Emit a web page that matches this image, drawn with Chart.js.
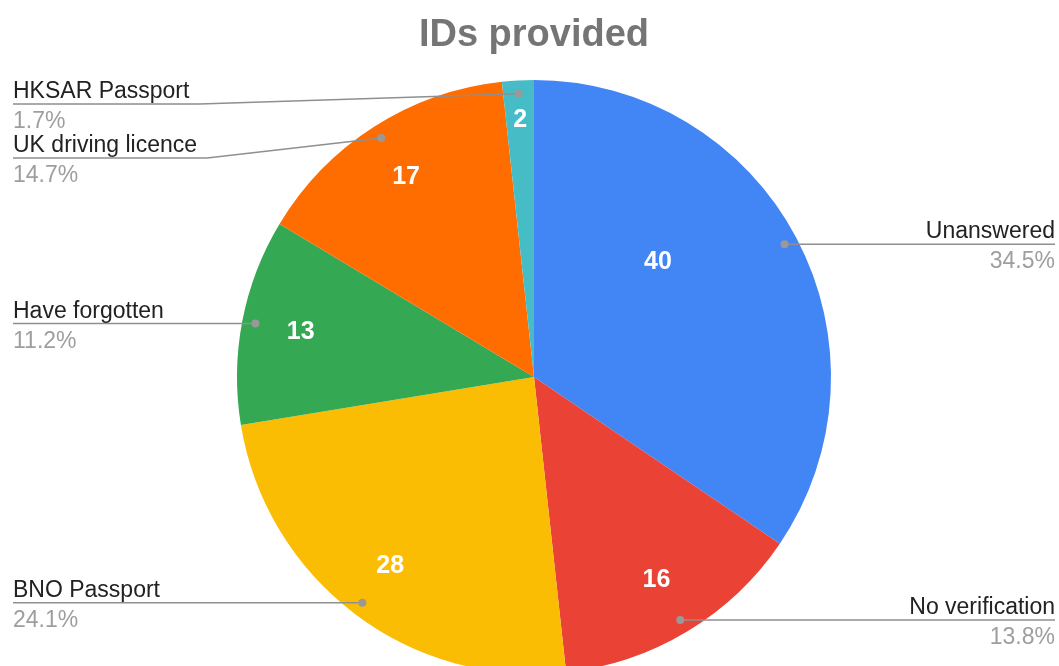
<!DOCTYPE html>
<html>
<head>
<meta charset="utf-8">
<script src="https://cdn.jsdelivr.net/npm/chart.js"></script>
<style>
  html, body { margin: 0; padding: 0; background: #fff; overflow: hidden; }
  #wrap { width: 1059px; height: 666px; overflow: hidden; }
  #box { position: relative; width: 1059px; height: 720px; }
</style>
</head>
<body>
<div id="wrap"><div id="box"><canvas id="chart"></canvas></div></div>
<script>
const categories = ['Unanswered', 'No verification', 'BNO Passport', 'Have forgotten', 'UK driving licence', 'HKSAR Passport'];
const counts = [40, 16, 28, 13, 17, 2];
const sliceColors = ['#4285f4', '#ea4335', '#fbbc04', '#34a853', '#ff6d01', '#46bdc6'];

const FONT = '"Liberation Sans", Arial, sans-serif';

// leader lines + labels outside, counts inside the slices
const pieLabels = {
  id: 'pieLabels',
  afterDatasetsDraw(chart) {
    const ctx = chart.ctx;
    const arcs = chart.getDatasetMeta(0).data;
    const total = counts.reduce((a, b) => a + b, 0);
    const W = chart.width;
    const left = [], right = [];

    arcs.forEach((arc, i) => {
      const p = arc.getProps(['x', 'y', 'startAngle', 'endAngle', 'outerRadius'], true);
      const mid = (p.startAngle + p.endAngle) / 2;
      const r = p.outerRadius;
      const item = {
        i, mid,
        dx: p.x + Math.cos(mid) * r * 0.955,
        dy: p.y + Math.sin(mid) * r * 0.955
      };
      (Math.cos(mid) >= 0 ? right : left).push(item);
    });

    // spread labels so they don't overlap
    [left, right].forEach(side => {
      side.sort((a, b) => a.dy - b.dy);
      let prev = -Infinity;
      side.forEach(it => {
        it.ly = Math.max(it.dy, 104, prev + 54);
        prev = it.ly;
      });
    });

    ctx.save();
    ctx.font = '23px ' + FONT;
    const drawSide = (side, isLeft) => {
      side.forEach(it => {
        const name = categories[it.i];
        const pct = (counts[it.i] / total * 100).toFixed(1) + '%';
        const tw = ctx.measureText(name).width;
        ctx.strokeStyle = '#8f8f8f';
        ctx.lineWidth = 1.5;
        ctx.beginPath();
        if (isLeft) {
          ctx.moveTo(13, it.ly);
          ctx.lineTo(Math.min(13 + tw + 10, it.dx), it.ly);
          ctx.lineTo(it.dx, it.dy);
        } else {
          ctx.moveTo(it.dx, it.dy);
          ctx.lineTo(Math.max(W - 4 - tw - 10, it.dx), it.ly);
          ctx.lineTo(W - 4, it.ly);
        }
        ctx.stroke();
        ctx.fillStyle = '#999999';
        ctx.beginPath();
        ctx.arc(it.dx, it.dy, 4, 0, Math.PI * 2);
        ctx.fill();

        ctx.textAlign = isLeft ? 'left' : 'right';
        ctx.textBaseline = 'alphabetic';
        const tx = isLeft ? 13 : W - 4;
        ctx.fillStyle = '#222222';
        ctx.fillText(name, tx, it.ly - 6);
        ctx.fillStyle = '#9e9e9e';
        ctx.fillText(pct, tx, it.ly + 24);
      });
    };
    drawSide(left, true);
    drawSide(right, false);

    // counts inside slices
    ctx.font = 'bold 25px ' + FONT;
    ctx.fillStyle = '#ffffff';
    ctx.textAlign = 'center';
    ctx.textBaseline = 'middle';
    arcs.forEach((arc, i) => {
      const p = arc.getProps(['x', 'y', 'startAngle', 'endAngle', 'outerRadius'], true);
      const span = p.endAngle - p.startAngle;
      let mid = (p.startAngle + p.endAngle) / 2;
      let k = 0.8;
      if (span > Math.PI * 0.6) {
        // big slice: keep the number clear of the leader dot
        mid -= 15 * Math.PI / 180;
        k = 0.57;
      } else if (span < 0.2) {
        k = 0.865;
      }
      ctx.fillText(String(counts[i]), p.x + Math.cos(mid) * p.outerRadius * k, p.y + Math.sin(mid) * p.outerRadius * k);
    });
    ctx.restore();
  }
};

new Chart(document.getElementById('chart'), {
  type: 'pie',
  data: {
    labels: categories,
    datasets: [{
      data: counts,
      backgroundColor: sliceColors,
      borderWidth: 0,
      hoverOffset: 0
    }]
  },
  options: {
    responsive: true,
    maintainAspectRatio: false,
    animation: false,
    layout: { padding: { top: 13, bottom: 46, left: 237, right: 228 } },
    plugins: {
      legend: { display: false },
      tooltip: { enabled: false },
      title: {
        display: true,
        text: 'IDs provided',
        color: '#757575',
        font: { family: FONT, size: 38, weight: 'bold', lineHeight: 1.2 },
        padding: { top: 0, bottom: 21.4 }
      }
    }
  },
  plugins: [pieLabels]
});
</script>
</body>
</html>
